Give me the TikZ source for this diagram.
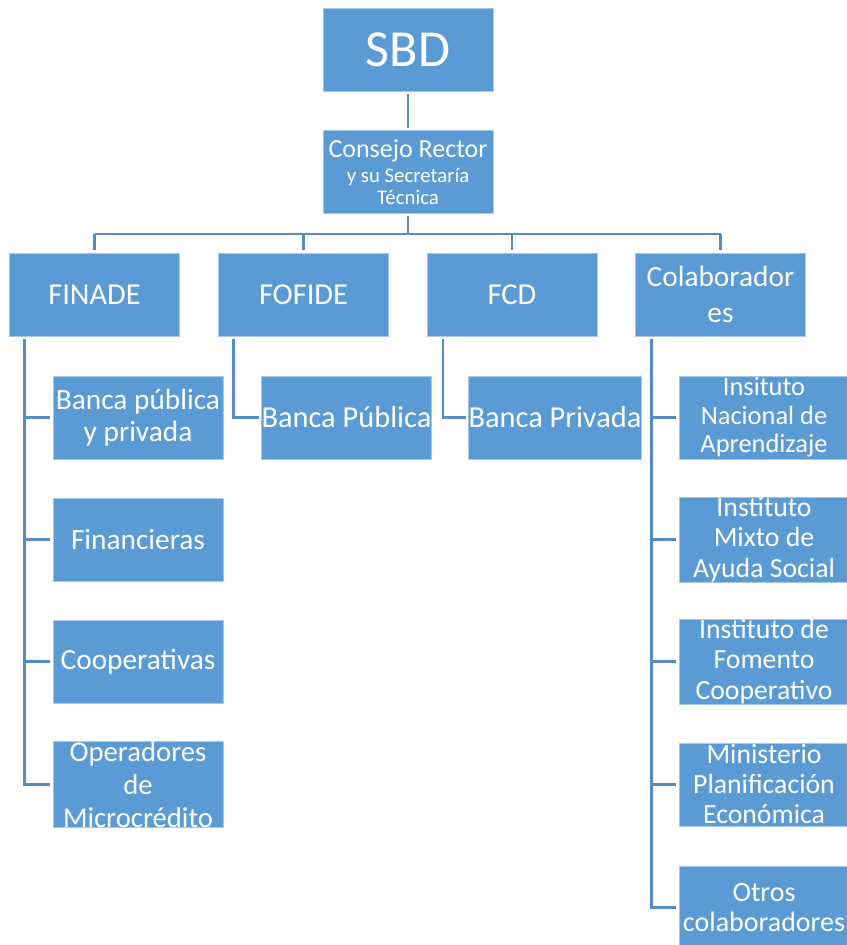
\documentclass[tikz,border=0pt]{standalone}
\usepackage{fontspec}
\setmainfont{Carlito}
\definecolor{sbdblue}{RGB}{91,155,213}
\definecolor{sbdline}{RGB}{84,138,200}
\tikzset{
	orgnode/.style = {
		align=center,
		inner sep=0pt,
		text centered,
		text=white,
		fill=sbdblue,
		draw=sbdblue!55!white,
		line width=0.6pt,
		outer sep=2pt,
		minimum width=127.5pt,
		minimum height=62.25pt
	},
	node_top/.style = {
		orgnode,
		font=\fontsize{39}{47}\selectfont
	},
	node_rector/.style = {
		orgnode,
		font=\fontsize{15.6}{16.5}\selectfont
	},
	node_main/.style = {
		orgnode,
		font=\fontsize{22.8}{27}\selectfont
	},
	node_sub/.style = {
		orgnode,
		font=\fontsize{22}{24}\selectfont
	},
	node_small/.style = {
		orgnode,
		font=\fontsize{20.8}{23}\selectfont
	},
	link/.style = {
		draw=sbdline,
		line width=2.2pt
	}
}

\begin{document}
\begin{tikzpicture}[x=0.75pt,y=-0.75pt]
\useasboundingbox (0,0) rectangle (846,945);

% top
\node [node_top] (sbd) at (408,49.5) {SBD};
\node [node_rector] (consejo) at (408,172) {{\fontsize{19.5}{22}\selectfont Consejo Rector}\\[2.25pt]
	y su Secretaría\\
	Técnica};

% funds
\node [node_main] (finade) at (94.5,294.5) {FINADE};
\node [node_main] (fofide) at (303.5,294.5) {FOFIDE};
\node [node_main] (fcd) at (512,294.5) {FCD};
\node [node_main, font=\fontsize{22}{27}\selectfont] (colab) at (720.5,294.5) {Colaborador\\es};

% FINADE
\node [node_sub] (fin1) at (138,417.5) {Banca pública\\y privada};
\node [node_sub] (fin2) at (138,539.5) {Financieras};
\node [node_sub] (fin3) at (138,661.5) {Cooperativas};
\node [node_sub, font=\fontsize{21.5}{24.75}\selectfont] (fin4) at (138,784.5) {Operadores\\de\\Microcrédito};

% FOFIDE, FCD
\node [node_main] (fof1) at (346.5,417.5) {Banca Pública};
\node [node_main] (fcd1) at (555,417.5) {Banca Privada};

% Colaboradores
\node [node_small, font=\fontsize{19.8}{21.4}\selectfont] (col1) at (764,417.5) {Insituto\\Nacional de\\Aprendizaje};
\node [node_small] (col2) at (764,539.5) {Instituto\\Mixto de\\Ayuda Social};
\node [node_small] (col3) at (764,661.5) {Instituto de\\Fomento\\Cooperativo};
\node [node_small, font=\fontsize{20.8}{22.5}\selectfont] (col4) at (764,784.5) {Ministerio\\Planificación\\Económica};
\node [orgnode, font=\fontsize{21}{22.5}\selectfont] (col5) at (764,907.5) {Otros\\colaboradores};

% connectors
\draw [link] (sbd) -- (consejo);
\coordinate (bus) at (408,234);
\draw [link] (consejo) -- (bus);
\draw [link] (finade.north |- bus) -- (colab.north |- bus);
\foreach \p in {finade,fofide,fcd,colab}
	\draw [link] (\p.north) -- (\p.north |- bus);
\foreach \k in {fin1,fin2,fin3,fin4}
	\draw [link] ([xshift=13.25pt]finade.south west) |- (\k.west);
\draw [link] ([xshift=13.25pt]fofide.south west) |- (fof1.west);
\draw [link] ([xshift=14pt]fcd.south west) |- (fcd1.west);
\foreach \k in {col1,col2,col3,col4,col5}
	\draw [link] ([xshift=14pt]colab.south west) |- (\k.west);
\end{tikzpicture}
\end{document}
